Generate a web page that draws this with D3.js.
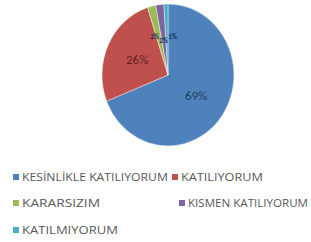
<!doctype html>
<html lang="tr">
<head>
<meta charset="utf-8">
<title>Pie</title>
<style>
  body { margin: 0; background: #fff; }
  svg { display: block; }
  text { font-family: "Liberation Sans Narrow", "Open Sans", Arial, sans-serif; }
</style>
</head>
<body>
<script src="https://cdn.jsdelivr.net/npm/d3@7/dist/d3.min.js"></script>
<script>
var categories = ["KESİNLİKLE KATILIYORUM", "KATILIYORUM", "KARARSIZIM", "KISMEN KATILIYORUM", "KATILMIYORUM"];
var values = [69, 26, 2, 2, 1];
var labels = ["69%", "26%", "2%", "2%", "1%"];
var colors = ["#4f81bd", "#c0504d", "#9bbb59", "#8064a2", "#4bacc6"];
var labelColors = ["#243f60", "#632523", "#17375e", "#17375e", "#17375e"];

var W = 311, H = 242;
var cx = 168, cy = 75, rx = 66, ry = 71;

var svg = d3.select("body").append("svg")
  .attr("width", W).attr("height", H);

var data = categories.map(function(c, i) { return { name: c, value: values[i], i: i }; });

var pie = d3.pie().sort(null).value(function(d) { return d.value; });
var arc = d3.arc().innerRadius(0).outerRadius(rx);
var labelArc = d3.arc().innerRadius(34).outerRadius(34);
var smallArc = d3.arc().innerRadius(35).outerRadius(35);

var g = svg.append("g")
  .attr("transform", "translate(" + cx + "," + cy + ") scale(1," + (ry / rx) + ")");

var arcs = pie(data);

g.selectAll("path")
  .data(arcs)
  .enter().append("path")
  .attr("d", arc)
  .attr("fill", function(d) { return colors[d.data.i]; })
  .attr("stroke", "#fff")
  .attr("stroke-width", 0.4);

// big labels at centroid
var big = arcs.filter(function(d) { return d.value >= 5; });
var small = arcs.filter(function(d) { return d.value < 5; });

svg.selectAll(".lbl")
  .data(big)
  .enter().append("text")
  .attr("class", "lbl")
  .attr("x", function(d) { return cx + labelArc.centroid(d)[0]; })
  .attr("y", function(d) { return cy + labelArc.centroid(d)[1] * ry / rx; })
  .attr("dy", "0.35em")
  .attr("text-anchor", "middle")
  .attr("fill", function(d) { return labelColors[d.data.i]; })
  .style("font-family", "Carlito, 'Open Sans', sans-serif")
  .style("font-size", "13px")
  .text(function(d) { return labels[d.data.i]; });

// tiny slices: labels crowd together near the top, spread side by side
var c0 = smallArc.centroid(small[1]);
svg.selectAll(".slbl")
  .data(small)
  .enter().append("text")
  .attr("class", "slbl")
  .attr("x", function(d, k) { return cx + c0[0] + (k - 1) * 9; })
  .attr("y", function(d, k) { return cy + c0[1] * ry / rx + (k === 1 ? 3 : -1); })
  .attr("dy", "0.35em")
  .attr("text-anchor", "middle")
  .attr("fill", function(d) { return labelColors[d.data.i]; })
  .style("font-family", "Carlito, 'Open Sans', sans-serif")
  .style("font-size", "7px")
  .style("font-weight", "bold")
  .text(function(d) { return labels[d.data.i]; });

// legend
var legendPos = [
  { x: 16, y: 177, w: 146 },
  { x: 175, y: 177, w: 82 },
  { x: 16, y: 203, w: 78 },
  { x: 182, y: 203, w: 120 },
  { x: 16, y: 230, w: 96 }
];

var leg = svg.selectAll(".leg")
  .data(data)
  .enter().append("g")
  .attr("class", "leg")
  .attr("transform", function(d) { return "translate(" + legendPos[d.i].x + "," + legendPos[d.i].y + ")"; });

leg.append("rect")
  .attr("x", -3).attr("y", -3)
  .attr("width", 6).attr("height", 6)
  .attr("fill", function(d) { return colors[d.i]; });

leg.append("text")
  .attr("x", 6)
  .attr("dy", "0.35em")
  .attr("fill", "#595959")
  .style("font-size", "11px")
  .attr("textLength", function(d) { return legendPos[d.i].w; })
  .attr("lengthAdjust", "spacingAndGlyphs")
  .text(function(d) { return d.name; });
</script>
</body>
</html>
